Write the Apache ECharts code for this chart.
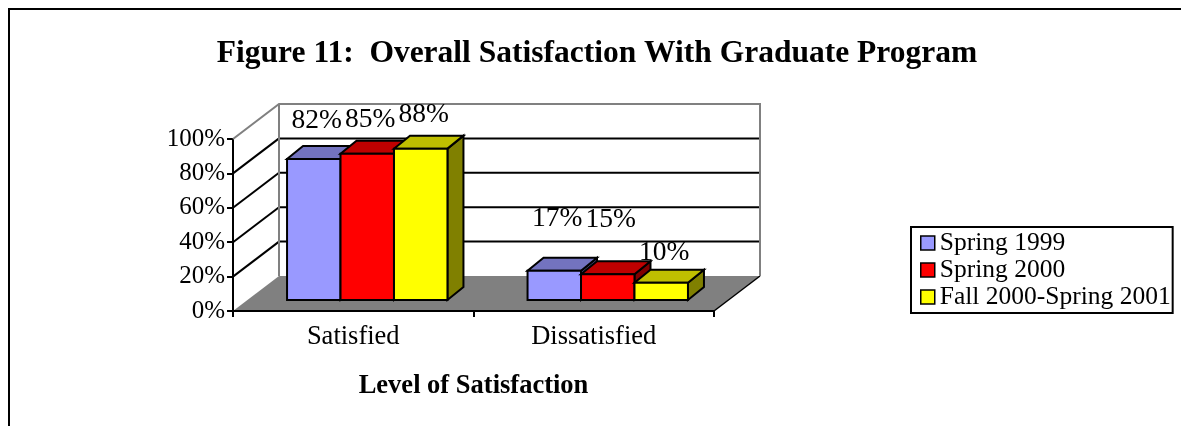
<!DOCTYPE html>
<html><head><meta charset="utf-8">
<script src="https://cdn.jsdelivr.net/npm/echarts@6/dist/echarts.min.js"></script>
<style>html,body{margin:0;padding:0;background:#fff}#c{width:1181px;height:426px}</style>
</head><body><div id="c"></div>
<script>
// ---- data ----
const categories = ['Satisfied', 'Dissatisfied'];
const seriesNames = ['Spring 1999', 'Spring 2000', 'Fall 2000-Spring 2001'];
const spring1999 = [0.82, 0.17];
const spring2000 = [0.85, 0.15];
const fall2000spring2001 = [0.88, 0.10];
const yTicks = [0, 0.2, 0.4, 0.6, 0.8, 1.0];
const yTickLabels = ['0%', '20%', '40%', '60%', '80%', '100%'];
const titleText = 'Figure 11:  Overall Satisfaction With Graduate Program';
const xAxisTitle = 'Level of Satisfaction';

// ---- styles ----
const FONT = '"Liberation Serif", "Times New Roman", serif';
const frontColors = ['#9999FF', '#FF0000', '#FFFF00'];
const topColors = ['#7373BF', '#BF0000', '#BFBF00'];
const sideColors = ['#4D4D80', '#800000', '#808000'];
const labelLift = [[38, 52], [34, 54], [34, 30]];
const WALL = { dx: 46, dy: -35 };
const BAR_FRONT = { dx: 14, dy: -11 };
const BAR_DEPTH = { dx: 16, dy: -13 };
const GROUP_FRAC = 0.667;

const allSeries = [spring1999, spring2000, fall2000spring2001];

function wallsRender(params, api) {
  const cs = params.coordSys;
  const x0 = cs.x, x1 = cs.x + cs.width;
  const yB = api.coord([0, 0])[1];
  const yT = api.coord([0, 1])[1];
  const dx = WALL.dx, dy = WALL.dy;
  const children = [];
  children.push({ type: 'polygon', shape: { points: [[x0, yB], [x1, yB], [x1 + dx, yB + dy], [x0 + dx, yB + dy]] },
    style: { fill: '#808080', stroke: null } });
  children.push({ type: 'line', shape: { x1: x1, y1: yB, x2: x1 + dx, y2: yB + dy }, style: { stroke: '#000', lineWidth: 1.5 } });
  yTicks.forEach(function (t) {
    if (t === 0 || t === 1) return;
    const y = api.coord([0, t])[1];
    children.push({ type: 'line', shape: { x1: x0, y1: y, x2: x0 + dx, y2: y + dy }, style: { stroke: '#000', lineWidth: 2 } });
    children.push({ type: 'line', shape: { x1: x0 + dx, y1: y + dy, x2: x1 + dx, y2: y + dy }, style: { stroke: '#000', lineWidth: 2 } });
  });
  children.push({ type: 'polyline', shape: { points: [[x0, yT], [x0 + dx, yT + dy], [x1 + dx, yT + dy], [x1 + dx, yB + dy]] },
    style: { stroke: '#808080', lineWidth: 2, fill: null } });
  children.push({ type: 'line', shape: { x1: x0 + dx, y1: yT + dy, x2: x0 + dx, y2: yB + dy }, style: { stroke: '#808080', lineWidth: 2 } });
  children.push({ type: 'line', shape: { x1: x0, y1: yB, x2: x1, y2: yB }, style: { stroke: '#000', lineWidth: 2 } });
  return { type: 'group', children: children };
}

function makeBarRender(si) {
  return function (params, api) {
    const ci = api.value(0), v = api.value(1);
    const c = api.coord([ci, 0]);
    const top = api.coord([ci, v]);
    const bw = api.size([1, 0])[0];
    const w = bw * GROUP_FRAC / 3;
    const xl = c[0] - bw * GROUP_FRAC / 2 + si * w + BAR_FRONT.dx;
    const xr = xl + w;
    const yb = c[1] + BAR_FRONT.dy;
    const yt = top[1] + BAR_FRONT.dy;
    const dx = BAR_DEPTH.dx, dy = BAR_DEPTH.dy;
    const st = { stroke: '#000', lineWidth: 2, lineJoin: 'miter' };
    return {
      type: 'group',
      children: [
        { type: 'polygon', shape: { points: [[xr, yt], [xr + dx, yt + dy], [xr + dx, yb + dy], [xr, yb]] },
          style: Object.assign({ fill: sideColors[si] }, st) },
        { type: 'polygon', shape: { points: [[xl, yt], [xr, yt], [xr + dx, yt + dy], [xl + dx, yt + dy]] },
          style: Object.assign({ fill: topColors[si] }, st) },
        { type: 'rect', shape: { x: xl, y: yt, width: w, height: yb - yt },
          style: Object.assign({ fill: frontColors[si] }, st) },
        { type: 'text', x: xl + w / 2 + 3, y: yt - labelLift[si][ci],
          style: { text: Math.round(v * 100) + '%', fill: '#000', font: '27.5px ' + FONT, align: 'center', verticalAlign: 'middle' } }
      ]
    };
  };
}

const chart = echarts.init(document.getElementById('c'), null, { renderer: 'canvas' });
const series = [{
  type: 'custom', name: '_walls', clip: false, silent: true, z: 1,
  data: [[0, 0]], renderItem: wallsRender
}];
seriesNames.forEach(function (n, si) {
  series.push({
    type: 'custom', name: n, clip: false, z: 3,
    itemStyle: { color: frontColors[si], borderColor: '#000', borderWidth: 1.5 },
    data: categories.map(function (c, ci) { return [ci, allSeries[si][ci]]; }),
    renderItem: makeBarRender(si)
  });
});

chart.setOption({
  animation: false,
  backgroundColor: '#fff',
  title: {
    text: titleText, left: 592, top: 33, textAlign: 'center',
    textStyle: { fontFamily: FONT, fontWeight: 'bold', fontSize: 31.5, color: '#000' }
  },
  grid: { left: 233, top: 139, width: 481, height: 172, containLabel: false },
  xAxis: {
    type: 'category', data: categories, boundaryGap: true,
    axisLine: { show: true, lineStyle: { color: '#000', width: 2 } },
    axisTick: { show: true, length: 6, lineStyle: { color: '#000', width: 2 }, alignWithLabel: false },
    axisLabel: { fontFamily: FONT, fontSize: 26.5, color: '#000', margin: 13 },
    name: xAxisTitle, nameLocation: 'middle', nameGap: 62,
    nameTextStyle: { fontFamily: FONT, fontWeight: 'bold', fontSize: 26.5, color: '#000' },
    splitLine: { show: false }
  },
  yAxis: {
    type: 'value', min: 0, max: 1, interval: 0.2,
    axisLine: { show: true, lineStyle: { color: '#000', width: 2 } },
    axisTick: { show: true, length: 6, lineStyle: { color: '#000', width: 2 } },
    axisLabel: {
      fontFamily: FONT, fontSize: 25, color: '#000', margin: 8,
      formatter: function (val) { const i = yTicks.findIndex(function (t) { return Math.abs(t - val) < 1e-9; }); return i >= 0 ? yTickLabels[i] : ''; }
    },
    splitLine: { show: false }
  },
  legend: {
    data: seriesNames, orient: 'vertical', left: 911, top: 227,
    padding: [3, 2, 3, 9], itemGap: 1, itemWidth: 14, itemHeight: 14, icon: 'rect',
    borderColor: '#000', borderWidth: 2, selectedMode: false,
    itemStyle: { borderColor: '#000', borderWidth: 1.5 },
    textStyle: { fontFamily: FONT, fontSize: 25.5, color: '#000', padding: [0, 0, 0, 0] }
  },
  graphic: [
    { type: 'line', shape: { x1: 8, y1: 9, x2: 1181, y2: 9 }, style: { stroke: '#000', lineWidth: 2 } },
    { type: 'line', shape: { x1: 9, y1: 8, x2: 9, y2: 426 }, style: { stroke: '#000', lineWidth: 2 } }
  ],
  series: series
});
</script>
</body></html>
